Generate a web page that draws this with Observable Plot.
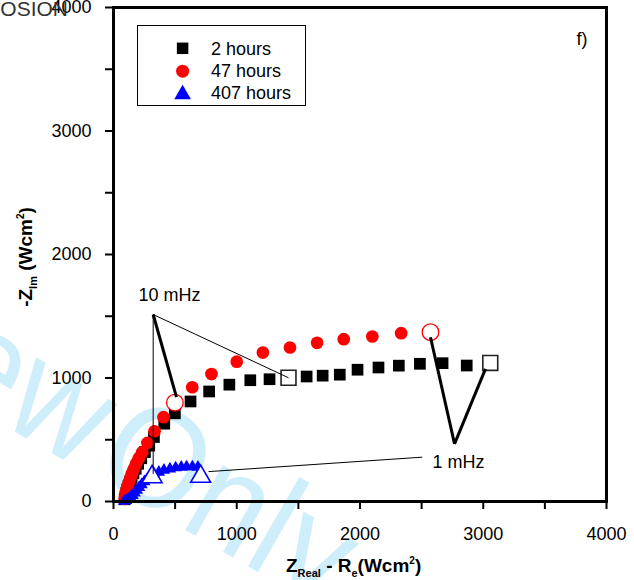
<!DOCTYPE html>
<html>
<head>
<meta charset="utf-8">
<script src="https://cdn.jsdelivr.net/npm/d3@7"></script>
<script src="https://cdn.jsdelivr.net/npm/@observablehq/plot@0.6"></script>
<style>
  body { margin: 0; background: #fff; }
  svg { display: block; }
</style>
</head>
<body>
<div id="chart"></div>
<script>
// ---------- data ----------
const seriesNames = ["2 hours", "47 hours", "407 hours"];
const seriesColors = ["#000000", "#ff0000", "#0000ff"];

// filled markers [Z_real - Re, -Z_im]
const hours2 = [[91,18],[97,42],[104,68],[112,96],[122,126],[134,158],[147,192],[162,228],[180,265],[200,305],[225,350],[255,400],[290,452],[328,522],[412,630],[498,714],[625,810],[776,891],[940,946],[1110,982],[1266,990],[1567,1012],[1697,1019],[1836,1027],[1980,1067],[2150,1085],[2315,1100],[2486,1115],[2670,1120],[2866,1101]];
const hours47 = [[90,22],[95,46],[101,73],[108,101],[117,131],[127,163],[139,196],[152,231],[167,268],[184,307],[205,350],[233,399],[275,474],[333,569],[406,683],[639,925],[795,1032],[1000,1132],[1212,1206],[1432,1247],[1652,1285],[1868,1314],[2100,1336],[2334,1363]];
const hours407 = [[86,3],[102,9],[120,19],[138,33],[155,50],[172,70],[190,92],[208,114],[228,137],[250,160],[275,183],[300,205],[328,226],[368,237],[409,253],[458,264],[504,273],[550,278],[593,281],[640,281],[685,278]];

// open markers: 10 mHz and 1 mHz points of each series
const mHz10 = [[1420,1002],[498,800],[313,199]];
const mHz1 = [[3057,1122],[2572,1371],[707,202]];

// axis ticks
const xTicks = [0,500,1000,1500,2000,2500,3000,3500,4000];
const yTicks = [0,500,1000,1500,2000,2500,3000,3500,4000];

// leader lines [x1, y1, x2, y2]
const thickLeaders = [[322,1514,511,845],[2767,467,2572,1330],[2767,467,3018,1074]];
const thinLeaders = [[322,1514,1420,1002],[322,1514,322,224],[2505,359,771,242]];
const annotations = [{text: "10 mHz", x: 203, y: 1668}, {text: "1 mHz", x: 2588, y: 318}];

// ---------- chart ----------
const font = "'Liberation Sans', Arial, Helvetica, sans-serif";
const px = d => d[0], py = d => d[1];
const tf = d => (d % 1000 === 0 ? String(d) : "");

const plot = Plot.plot({
  width: 634,
  height: 580,
  marginLeft: 113,
  marginRight: 28,
  marginTop: 7,
  marginBottom: 79,
  style: {fontFamily: font, fontSize: "18px", background: "#fff", overflow: "visible"},
  x: {domain: [0, 4000]},
  y: {domain: [0, 4000]},
  marks: [
    Plot.axisX({ticks: xTicks, tickSize: 8, tickPadding: 18, strokeWidth: 2, tickFormat: tf, label: null, fontSize: 18}),
    Plot.axisY({ticks: yTicks, tickSize: 8, tickPadding: 14, strokeWidth: 2, tickFormat: tf, label: null, fontSize: 18}),
    Plot.dot(hours2, {x: px, y: py, symbol: "square", r: 6.6, fill: seriesColors[0]}),
    Plot.dot(hours47, {x: px, y: py, symbol: "circle", r: 6.35, fill: seriesColors[1]}),
    Plot.dot(hours407, {x: px, y: py, symbol: "triangle", r: 4.6, fill: seriesColors[2]}),
    Plot.dot([mHz10[0], mHz1[0]], {x: px, y: py, symbol: "square", r: 8.4, fill: "#fff", stroke: "#222", strokeWidth: 1.6}),
    Plot.dot([mHz10[1], mHz1[1]], {x: px, y: py, symbol: "circle", r: 8.3, fill: "#fff", stroke: seriesColors[1], strokeWidth: 1.3}),
    Plot.dot([mHz10[2], mHz1[2]], {x: px, y: py, symbol: "triangle", r: 7.4, fill: "#fff", stroke: seriesColors[2], strokeWidth: 1.6}),
    Plot.link(thinLeaders, {x1: d => d[0], y1: d => d[1], x2: d => d[2], y2: d => d[3], stroke: "#000", strokeWidth: 1}),
    Plot.link(thickLeaders, {x1: d => d[0], y1: d => d[1], x2: d => d[2], y2: d => d[3], stroke: "#000", strokeWidth: 3}),
    Plot.text(annotations, {x: "x", y: "y", text: "text", textAnchor: "start", lineAnchor: "middle", fontSize: 18, fill: "#000"}),
    Plot.text(["f)"], {frameAnchor: "top-right", textAnchor: "end", lineAnchor: "middle", dx: -19, dy: 32, fontSize: 18, fill: "#000"}),
    Plot.frame({stroke: "#000", strokeWidth: 3})
  ]
});

document.getElementById("chart").appendChild(plot);

const svg = d3.select(plot);
const NS = "http://www.w3.org/2000/svg";

// watermark (behind everything)
const wm = document.createElementNS(NS, "text");
wm.textContent = "For Review Only";
wm.setAttribute("transform", "translate(322,609) rotate(30) scale(0.92,1)");
wm.setAttribute("text-anchor", "end");
wm.setAttribute("word-spacing", "-28");
wm.setAttribute("font-family", font);
wm.setAttribute("font-size", "142");
wm.setAttribute("fill", "#cfeefb");
plot.insertBefore(wm, plot.querySelector("g"));

// cropped header text at top-left
svg.append("text")
  .attr("x", 68).attr("y", 16)
  .attr("text-anchor", "end")
  .attr("font-family", font).attr("font-size", 21).attr("fill", "#333")
  .text("CORROSION");

// x axis title
const xt = svg.append("text")
  .attr("x", 286).attr("y", 571.5)
  .attr("text-anchor", "start")
  .attr("font-family", font).attr("font-weight", "bold").attr("font-size", 19).attr("fill", "#000");
xt.append("tspan").text("Z");
xt.append("tspan").attr("font-size", 11).attr("dy", 5).text("Real");
xt.append("tspan").attr("dy", -5).text(" - R");
xt.append("tspan").attr("font-size", 11).attr("dy", 5).text("e");
xt.append("tspan").attr("dy", -5).text("(Wcm");
xt.append("tspan").attr("font-size", 10).attr("dy", -8).text("2");
xt.append("tspan").attr("dy", 8).text(")");

// y axis title
const yt = svg.append("text")
  .attr("transform", "translate(32,257) rotate(-90)")
  .attr("text-anchor", "middle")
  .attr("font-family", font).attr("font-weight", "bold").attr("font-size", 19).attr("fill", "#000");
yt.append("tspan").text("-Z");
yt.append("tspan").attr("font-size", 11).attr("dy", 5).text("Im");
yt.append("tspan").attr("dy", -5).text(" (Wcm");
yt.append("tspan").attr("font-size", 10).attr("dy", -8).text("2");
yt.append("tspan").attr("dy", 8).text(")");

// legend
const lg = svg.append("g");
lg.append("rect")
  .attr("x", 137.5).attr("y", 25.5).attr("width", 168).attr("height", 80)
  .attr("fill", "#fff").attr("stroke", "#000").attr("stroke-width", 1);
const legendSymbols = [d3.symbolSquare, d3.symbolCircle, d3.symbolTriangle];
const legendAreas = [132, 133, 121];
const legendSymY = [48.3, 71.2, 94.3];
const legendTextY = [55, 77.3, 99];
seriesNames.forEach((name, i) => {
  lg.append("path")
    .attr("transform", `translate(182.6,${legendSymY[i]})`)
    .attr("d", d3.symbol(legendSymbols[i], legendAreas[i])())
    .attr("fill", seriesColors[i]);
  lg.append("text")
    .attr("x", 211).attr("y", legendTextY[i])
    .attr("text-anchor", "start")
    .attr("font-family", font).attr("font-size", 18).attr("fill", "#000")
    .text(name);
});
</script>
</body>
</html>
